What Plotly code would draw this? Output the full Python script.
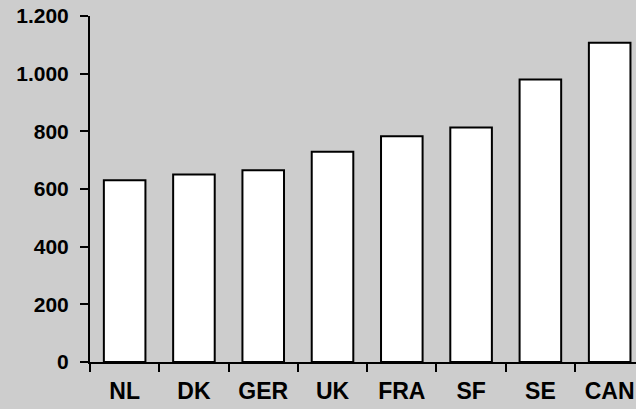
import plotly.graph_objects as go

categories = ["NL", "DK", "GER", "UK", "FRA", "SF", "SE", "CAN"]
values = [630, 650, 665, 729, 783, 813, 980, 1107]
y_tick_vals = [0, 200, 400, 600, 800, 1000, 1200]
y_tick_text = ["0", "200", "400", "600", "800", "1.000", "1.200"]

bg = "#cdcdcd"

fig = go.Figure(
    go.Bar(
        x=categories,
        y=values,
        marker=dict(color="white", line=dict(color="black", width=2)),
        width=0.6,
    )
)

fig.update_layout(
    width=636,
    height=409,
    margin=dict(l=90, r=0, t=16, b=47),
    paper_bgcolor=bg,
    plot_bgcolor=bg,
    showlegend=False,
    font=dict(family="Liberation Sans, Arial, sans-serif", color="black"),
)

fig.update_xaxes(
    range=[-0.5, 7.38],
    showgrid=False,
    showline=True,
    linecolor="black",
    linewidth=2,
    ticks="outside",
    tickson="boundaries",
    ticklen=8,
    tickwidth=2,
    tickcolor="black",
    tickfont=dict(size=23, family="Liberation Sans, Arial, sans-serif", weight="bold"),
    ticklabelstandoff=7,
)

fig.update_yaxes(
    range=[0, 1200],
    tickvals=y_tick_vals,
    ticktext=y_tick_text,
    showgrid=False,
    zeroline=False,
    showline=True,
    linecolor="black",
    linewidth=2,
    ticks="outside",
    ticklen=8,
    tickwidth=2,
    tickcolor="black",
    tickfont=dict(size=21, family="Liberation Sans, Arial, sans-serif", weight="bold"),
    ticklabelstandoff=7,
)

fig.write_html(
    "out.html",
    config={"displayModeBar": False},
    post_script="document.body.style.margin='0';document.body.style.overflow='hidden';",
)
